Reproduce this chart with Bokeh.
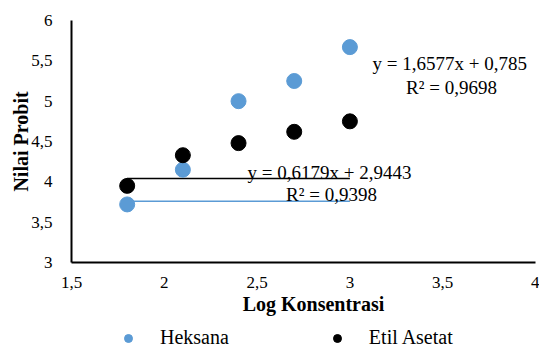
from bokeh.plotting import figure
from bokeh.layouts import column
from bokeh.models import Range1d, FixedTicker, CustomJSTickFormatter, Label, Legend, LegendItem
from bokeh.embed import file_html
from bokeh.resources import INLINE

log_konsentrasi = [1.8, 2.1, 2.4, 2.7, 3.0]
heksana = [3.72, 4.15, 5.00, 5.25, 5.67]
etil_asetat = [3.95, 4.33, 4.48, 4.62, 4.75]
trend_x = [1.8, 3.0]
trend_heksana = [3.76, 3.76]
trend_etil = [4.04, 4.04]
x_ticks = [1.5, 2, 2.5, 3, 3.5, 4]
y_ticks = [3, 3.5, 4, 4.5, 5, 5.5, 6]
eq_heksana = ["y = 1,6577x + 0,785", "R² = 0,9698"]
eq_etil = ["y = 0,6179x + 2,9443", "R² = 0,9398"]
series_names = ["Heksana", "Etil Asetat"]

BLUE = "#5B9BD5"
FONT = "Liberation Serif"

p = figure(width=539, height=325, output_backend="svg", toolbar_location=None,
           x_range=Range1d(1.5, 4), y_range=Range1d(3, 6))
p.min_border_left = 71
p.min_border_right = 4
p.min_border_top = 20
p.min_border_bottom = 63
p.outline_line_color = None
p.grid.visible = False
p.background_fill_color = "white"

fmt = CustomJSTickFormatter(code="return tick.toString().replace('.', ',');")
for ax, ticks in ((p.xaxis[0], x_ticks), (p.yaxis[0], y_ticks)):
    ax.ticker = FixedTicker(ticks=ticks)
    ax.formatter = fmt
    ax.major_tick_line_color = None
    ax.minor_tick_line_color = None
    ax.axis_line_color = "black"
    ax.axis_line_width = 2
    ax.major_label_text_font = FONT
    ax.major_label_text_font_size = "17px"
    ax.major_label_text_color = "black"
    ax.axis_label_text_font = FONT
    ax.axis_label_text_font_size = "20px"
    ax.axis_label_text_font_style = "bold"
    ax.axis_label_text_color = "black"
p.xaxis.axis_label = "\u2002\u2002Log Konsentrasi"
p.yaxis.axis_label = "Nilai Probit"
p.xaxis.major_label_standoff = 8
p.yaxis.major_label_standoff = 13
p.xaxis.axis_label_standoff = 2
p.yaxis.axis_label_standoff = -4

p.line(trend_x, trend_etil, line_color="black", line_width=1.5)
p.line(trend_x, trend_heksana, line_color=BLUE, line_width=1.5)

p.scatter(log_konsentrasi, heksana, size=15, fill_color=BLUE, line_color=BLUE)
p.scatter(log_konsentrasi, etil_asetat, size=15, fill_color="black", line_color="black")

def lab(x, y, t, align="left"):
    p.add_layout(Label(x=x, y=y, x_units="screen", y_units="screen", text=t,
                       text_font=FONT, text_font_size="19px", text_color="black",
                       text_align=align, text_baseline="middle"))

lab(301, 199, eq_heksana[0])
lab(380, 175, eq_heksana[1], "center")
lab(176, 90, eq_etil[0])
lab(260, 68, eq_etil[1], "center")

# legend strip below the chart (its renderers hold points outside its own range, so only the legend shows)
lg = figure(width=539, height=24, output_backend="svg", toolbar_location=None,
            x_range=Range1d(0, 1), y_range=Range1d(0, 1),
            x_axis_type=None, y_axis_type=None)
lg.min_border = 0
lg.outline_line_color = None
lg.grid.visible = False
e1 = lg.scatter(x=log_konsentrasi[:1], y=heksana[:1], size=12, fill_color=BLUE, line_color=BLUE)
e2 = lg.scatter(x=log_konsentrasi[:1], y=etil_asetat[:1], size=12, fill_color="black", line_color="black")
legend = Legend(items=[LegendItem(label=series_names[0], renderers=[e1]),
                       LegendItem(label=series_names[1], renderers=[e2])],
                orientation="horizontal", location=(47, 0))
legend.label_text_font = FONT
legend.label_text_font_size = "20px"
legend.label_text_color = "black"
legend.border_line_color = None
legend.background_fill_alpha = 0
legend.glyph_width = 20
legend.glyph_height = 20
legend.label_standoff = 22
legend.spacing = 98
legend.padding = 0
legend.margin = 0
lg.add_layout(legend, "center")

open("out.html", "w").write(file_html(column(p, lg, spacing=0), INLINE))
